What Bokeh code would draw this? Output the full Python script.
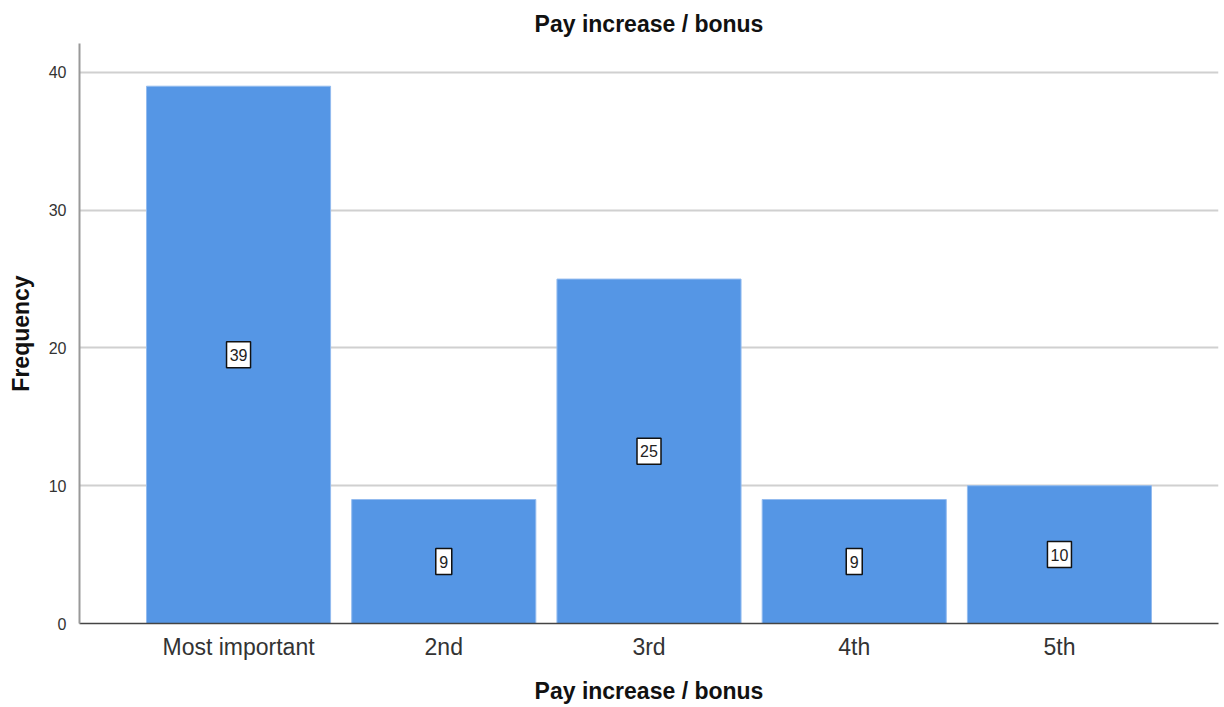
from bokeh.plotting import figure
from bokeh.models import Range1d, FixedTicker, ColumnDataSource
from bokeh.core.properties import value
from bokeh.embed import file_html
from bokeh.resources import INLINE

categories = ["Most important", "2nd", "3rd", "4th", "5th"]
counts = [39, 9, 25, 9, 10]
y_ticks = [0, 10, 20, 30, 40]

xs = list(range(1, len(categories) + 1))
src = ColumnDataSource(dict(
    x=xs,
    top=counts,
    mid=[c / 2 for c in counts],
    label=[str(c) for c in counts],
    box_w=[8 + 8 * len(str(c)) for c in counts],
))

p = figure(width=1224, height=707, output_backend="svg", toolbar_location=None,
           x_range=Range1d(0.225, 5.775), y_range=Range1d(0, 42.1),
           min_border_left=79, min_border_right=6, min_border_top=43, min_border_bottom=84)

p.title.text = "Pay increase / bonus"
p.title.align = "center"
p.title.text_font = "Liberation Sans"
p.title.text_font_style = "bold"
p.title.text_font_size = "23px"
p.title.text_color = "#111111"
p.title.standoff = 14
p.title.offset = 0

p.vbar(x="x", top="top", width=0.897, source=src,
       fill_color="#5596e5", line_color="#93bbef", line_width=1)

p.rect(x="x", y="mid", width="box_w", height=26, width_units="screen", height_units="screen",
       source=src, fill_color="white", line_color="#111111", line_width=1.5)
p.text(x="x", y="mid", text="label", source=src, text_align="center", text_baseline="middle",
       text_font=value("Liberation Sans"), text_font_size="16px", text_color="#222222")

p.outline_line_color = None
p.xgrid.grid_line_color = None
p.ygrid.grid_line_color = "#d0d0d0"
p.ygrid.grid_line_width = 2
p.ygrid.ticker = FixedTicker(ticks=y_ticks)

xa = p.xaxis[0]
xa.ticker = FixedTicker(ticks=xs)
xa.major_label_overrides = {x: c for x, c in zip(xs, categories)}
xa.major_tick_line_color = None
xa.minor_tick_line_color = None
xa.axis_line_color = "#444444"
xa.axis_line_width = 1.5
xa.major_label_text_font = "Liberation Sans"
xa.major_label_text_font_size = "23px"
xa.major_label_text_color = "#333333"
xa.major_label_standoff = 4
xa.axis_label = "Pay increase / bonus"
xa.axis_label_text_font = "Liberation Sans"
xa.axis_label_text_font_style = "bold"
xa.axis_label_text_font_size = "23px"
xa.axis_label_text_color = "#111111"
xa.axis_label_standoff = 15

ya = p.yaxis[0]
ya.ticker = FixedTicker(ticks=y_ticks)
ya.major_tick_line_color = None
ya.minor_tick_line_color = None
ya.axis_line_color = "#999999"
ya.axis_line_width = 2
ya.major_label_text_font = "Liberation Sans"
ya.major_label_text_font_size = "16px"
ya.major_label_text_color = "#333333"
ya.major_label_standoff = 7
ya.axis_label = "Frequency"
ya.axis_label_text_font = "Liberation Sans"
ya.axis_label_text_font_style = "bold"
ya.axis_label_text_font_size = "23px"
ya.axis_label_text_color = "#111111"
ya.axis_label_standoff = 12

open("out.html", "w").write(file_html(p, INLINE))
